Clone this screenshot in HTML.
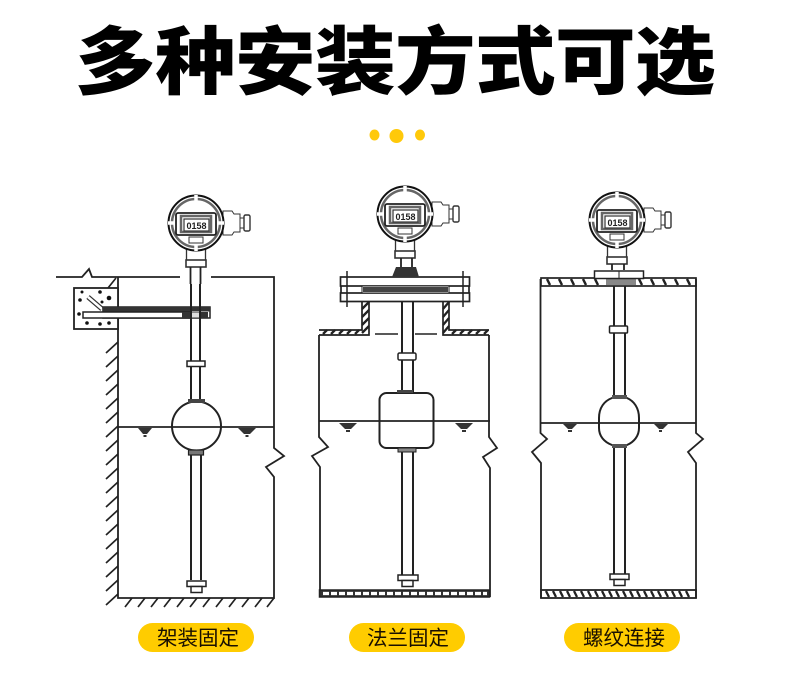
<!DOCTYPE html>
<html lang="zh"><head><meta charset="utf-8"><style>
html,body{margin:0;padding:0;background:#fff;width:790px;height:685px;overflow:hidden}
svg{display:block}
.t{font-family:"Liberation Sans","Noto Sans CJK SC",sans-serif}
.b{filter:blur(.35px)}
</style></head><body>
<svg width="790" height="685" viewBox="0 0 790 685" xmlns="http://www.w3.org/2000/svg">
<defs>
<g id="head" fill="#fff" stroke="#333">
 <path d="M27 -12H36L38 -9H44V9H38L36 12H27Z" stroke-width="1"/>
 <rect x="44" y="-5" width="4" height="10" stroke-width="1"/>
 <rect x="48" y="-8" width="6" height="16" rx="1.5" stroke-width="1.4"/>
 <rect x="-9.5" y="26" width="19" height="12" stroke-width="1.3"/>
 <rect x="-10" y="37" width="20" height="7" stroke-width="1.6"/>
 <circle r="27.5" stroke="#111" stroke-width="2"/>
 <circle r="24" stroke-width="2.5" stroke="#666"/>
 <path d="M0 -28V-21M0 21V28M-28 0H-21M28 0H21" stroke="#fff" stroke-width="3.5"/>
 <rect x="-20" y="-10" width="40" height="22" rx="2" stroke-width="1.8" stroke="#222"/>
 <rect x="-15" y="-7" width="30" height="16" stroke="#666" stroke-width="2.5"/>
 <rect x="-12" y="-4" width="25" height="12" stroke-width="1.2"/>
 <rect x="-7" y="14" width="14" height="6" stroke-width="1"/>
</g>
</defs>
<text class="t" transform="translate(75,88) scale(1.09,1)" font-size="74" font-weight="900" letter-spacing="-.6" fill="#000">多种安装方式可选</text>
<ellipse cx="374.500" cy="135" rx="5" ry="5.500" fill="#FFC90A"/>
<ellipse cx="396.500" cy="136" rx="7" ry="7" fill="#FFC90A"/>
<ellipse cx="420" cy="135" rx="5" ry="5.500" fill="#FFC90A"/>

<g class="b">
<g fill="none" stroke="#222" stroke-width="1.7">
<!-- ============ diagram 1 ============ -->
<path d="M56 277H82L89 269L92 277H180M211 277H274V448L284 456L266 467L274 477V598H118V277" stroke-width="1.8"/>
<path d="M116 278L108 288M118 342L106 353M118 356L106 367M118 370L106 381M118 384L106 395M118 398L106 409M118 412L106 423M118 426L106 437M118 440L106 451M118 454L106 465M118 468L106 479M118 482L106 493M118 496L106 507M118 510L106 521M118 524L106 535M118 538L106 549M118 552L106 563M118 566L106 577M118 580L106 591M118 594L106 605" stroke-width="1.7"/>
<path d="M132 598L125 607M145 598L138 607M158 598L151 607M171 598L164 607M184 598L177 607M197 598L190 607M210 598L203 607M223 598L216 607M236 598L229 607M249 598L242 607M262 598L255 607M274 598L267 607" stroke-width="1.7"/>
<rect x="74" y="288" width="44" height="41" fill="#fff" stroke-width="1.8"/>
<path d="M88 297L102 309" stroke-width="5" stroke="#333"/><path d="M88 297L102 309" stroke-width="2.500" stroke="#fff"/>
<g fill="#111" stroke="none"><circle cx="80" cy="300" r="1.800"/><circle cx="82" cy="292" r="1.500"/><circle cx="100" cy="292" r="1.800"/><circle cx="109" cy="298" r="2.300"/><circle cx="102" cy="302" r="1.500"/><circle cx="79" cy="314" r="1.800"/><circle cx="87" cy="323" r="1.800"/><circle cx="100" cy="324" r="1.800"/><circle cx="109" cy="323" r="1.800"/></g>
<rect x="103" y="307" width="107" height="11" fill="#fff" stroke-width="1.500"/>
<rect x="103" y="307" width="107" height="4.500" fill="#333" stroke="none"/>
<rect x="83" y="312" width="108" height="6" fill="#fff" stroke-width="1.500"/>
<rect x="182" y="312" width="26" height="6" fill="#333" stroke="none"/>
<rect x="190" y="312.500" width="10" height="5" fill="#ddd" stroke="none"/>
<path d="M191 284V400M200 284V400M191 451V580M201 451V580" stroke-width="2"/>
<rect x="187" y="361" width="18" height="5.500" fill="#fff" stroke-width="1.500"/>
<path d="M118 427H274" stroke-width="1.700"/>
<circle cx="196.500" cy="426" r="24.500" stroke-width="2"/>
<rect x="188" y="399" width="17" height="4" fill="#444" stroke="none"/>
<rect x="188.500" y="450" width="15" height="5" fill="#777" stroke-width="1.200"/>
<rect x="187" y="581" width="19" height="5.500" fill="#fff" stroke-width="1.500"/>
<rect x="191" y="586.500" width="11" height="6" fill="#fff" stroke-width="1.500"/>
<g fill="#333" stroke="none"><path d="M138 428H152L147 434H143Z"/><rect x="143.500" y="435" width="3" height="2"/><path d="M238 428H256L250 434H244Z"/><rect x="245.500" y="435" width="3" height="2"/></g>

<!-- ============ diagram 2 ============ -->
<path d="M319 335V437L328 447L312 456L320 467V597M489 335V437L497 448L483 457L490 468V597" stroke-width="1.800"/>
<rect x="319.500" y="590" width="170" height="7" fill="#333" stroke-width="1.500"/>
<path d="M323 593.500H329M331 593.500H337M339 593.500H345M347 593.500H353M355 593.500H361M363 593.500H369M371 593.500H377M379 593.500H385M387 593.500H393M395 593.500H401M403 593.500H409M411 593.500H417M419 593.500H425M427 593.500H433M435 593.500H441M443 593.500H449M451 593.500H457M459 593.500H465M467 593.500H473M475 593.500H481M483 593.500H487" stroke="#fff" stroke-width="3.200"/>
<path d="M319 330H362V301M369 301V335H319M443 301V335H489M449 301V330H489" stroke-width="1.700"/>
<path d="M323 334L327 330M331 334L335 330M339 334L343 330M347 334L351 330M355 334L359 330M362 333L369 326M362 325L369 318M362 317L369 310M362 309L369 302M443 333L449 326M443 325L449 318M443 317L449 310M443 309L449 302M452 334L456 330M460 334L464 330M468 334L472 330M476 334L480 330M484 334L488 330" stroke-width="2.300"/>
<path d="M375 334H398M415 334H437" stroke-width="1.500"/>
<rect x="340.500" y="277" width="129" height="9" fill="#fff" stroke-width="1.700"/>
<rect x="340.500" y="293" width="129" height="8.500" fill="#fff" stroke-width="1.700"/>
<path d="M341 286V293M469 286V293"/>
<rect x="362" y="286" width="87" height="7" fill="#fff" stroke-width="1"/>
<rect x="363" y="287" width="85" height="5" fill="#444" stroke="none"/>
<path d="M347 271V307M463 271V307" stroke-width="1.500"/>
<path d="M392 277L396 267H416L419 277Z" fill="#333" stroke="none"/>
<path d="M402 302V393M413 302V393M402 449V578M413 449V578" stroke-width="2"/>
<rect x="398" y="353" width="18" height="7" rx="1.500" fill="#fff" stroke-width="1.500"/>
<path d="M319 421H490" stroke-width="1.700"/>
<rect x="379.500" y="393" width="54" height="55" rx="7" stroke-width="2"/>
<rect x="397" y="390" width="16" height="3" fill="#444" stroke="none"/>
<rect x="398" y="448" width="18" height="4" fill="#888" stroke-width="1"/>
<rect x="398" y="575" width="20" height="5.500" fill="#fff" stroke-width="1.500"/>
<rect x="402" y="580.500" width="11" height="6" fill="#fff" stroke-width="1.500"/>
<g fill="#333" stroke="none"><path d="M339 423H357L351 429H345Z"/><rect x="346" y="430" width="4" height="2"/><path d="M455 423H473L467 429H461Z"/><rect x="462" y="430" width="4" height="2"/></g>

<!-- ============ diagram 3 ============ -->
<path d="M540.500 279V433L547 439L532 452L541 463V598M696 279V433L703 439L688 452L696 463V598" stroke-width="1.800"/>
<rect x="541" y="278" width="155" height="8" stroke-width="1.700"/>
<path d="M547 279L550 285M559 279L562 285M571 279L574 285M583 279L586 285M595 279L598 285M639 279L642 285M651 279L654 285M663 279L666 285M675 279L678 285M687 279L690 285" stroke-width="2.500"/>
<rect x="606" y="279" width="30" height="6" fill="#888" stroke="none"/>
<rect x="594.500" y="271" width="49" height="7.500" fill="#fff" stroke-width="1.500"/>
<path d="M619 271V278" stroke-width="1"/>
<rect x="541" y="590" width="155" height="8" stroke-width="1.800"/>
<path d="M546 591L549 597M553 591L556 597M560 591L563 597M567 591L570 597M574 591L577 597M581 591L584 597M588 591L591 597M595 591L598 597M602 591L605 597M609 591L612 597M616 591L619 597M623 591L626 597M630 591L633 597M637 591L640 597M644 591L647 597M651 591L654 597M658 591L661 597M665 591L668 597M672 591L675 597M679 591L682 597M686 591L689 597" stroke-width="2.300"/>
<path d="M614 286V396M625 286V396M614 447V578M625 447V578" stroke-width="2"/>
<rect x="609.500" y="326" width="18" height="7" rx="1" fill="#fff" stroke-width="1.500"/>
<path d="M540 423H696" stroke-width="1.700"/>
<path d="M612 398H627C634 401 639 408 639 418V428C639 436 634 442 627 445H612C604 442 599 436 599 428V418C599 408 604 401 612 398Z" stroke-width="2"/>
<rect x="612" y="395" width="15" height="4" fill="#555" stroke="none"/>
<rect x="612" y="444" width="15" height="4" fill="#555" stroke="none"/>
<rect x="610" y="574" width="19" height="5.500" fill="#fff" stroke-width="1.500"/>
<rect x="614" y="579.500" width="11" height="6" fill="#fff" stroke-width="1.500"/>
<g fill="#333" stroke="none"><path d="M563 424H577L572 429H568Z"/><rect x="568" y="430" width="4" height="2"/><path d="M654 424H668L663 429H659Z"/><rect x="659" y="430" width="3" height="2"/></g>
</g>

<use href="#head" x="196" y="223"/>
<use href="#head" x="405" y="214"/>
<use href="#head" x="617" y="220"/>
<g class="t" font-size="9" fill="#222" text-anchor="middle" font-weight="700">
<text x="196.500" y="229">0158</text><text x="405.500" y="220">0158</text><text x="617.500" y="226">0158</text>
</g>
<path d="M190.500 267V284M200.500 267V284M612 264V270M624 264V270M401 258V267M412 258V267" stroke="#222" stroke-width="1.800" fill="none"/>
</g>

<g fill="#FFCC00">
<rect x="138" y="623" width="116" height="29" rx="14.500"/>
<rect x="349" y="623" width="116" height="29" rx="14.500"/>
<rect x="564" y="623" width="116" height="29" rx="14.500"/>
</g>
<g class="t" font-size="20.500" fill="#1a1000">
<text x="157" y="645">架装固定</text>
<text x="367" y="645">法兰固定</text>
<text x="583" y="645">螺纹连接</text>
</g>
</svg>
</body></html>
